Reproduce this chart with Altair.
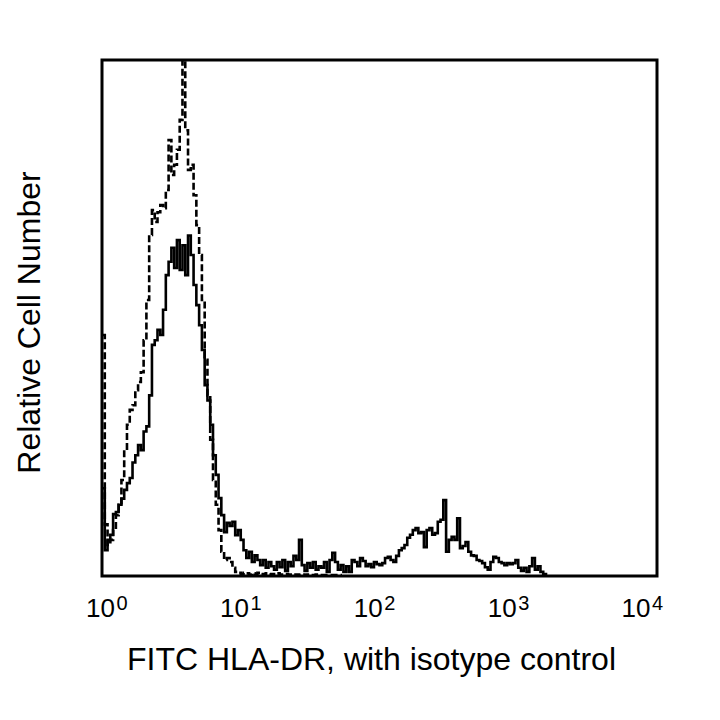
import altair as alt
import pandas as pd

# Histogram heights (percent of plot height) per channel, 50 channels per decade
sample_counts = [
    17, 5, 7, 8, 12, 12.4, 13.8, 15, 16.7, 18,
    19, 22, 23.4, 25.4, 24.4, 28, 29, 35, 44.8, 45.7,
    47.7, 46.7, 51.6, 58.3, 60.9, 63.6, 59.7, 65.1, 59.3, 64.1,
    58.3, 66, 62.2, 56.4, 52.5, 48.6, 43.8, 37, 34, 29.3,
    23.4, 19.6, 15.1, 11.8, 8.5, 10.3, 9.7, 10.5, 7.9, 8.9,
    7, 5, 3.5, 4.7, 2.7, 4, 3.1, 2.1, 3.1, 1.6,
    2.7, 1.9, 1.2, 2.7, 1.7, 3.1, 1, 2.7, 1.9, 3.9,
    3.1, 7, 2.1, 1, 2.5, 1.6, 2.7, 1.2, 1.9, 1.6,
    2.7, 0.8, 3.1, 4.5, 2.7, 1.2, 2.1, 0.8, 1.9, 0.8,
    3.1, 2.7, 1.9, 3.5, 2.9, 1.9, 2.3, 1.7, 2.7, 2.3,
    2.1, 2.5, 3.5, 3.7, 3.1, 2.7, 3.9, 5, 5.4, 6,
    7.4, 8, 8.9, 9.3, 8.3, 8.5, 5.6, 8.9, 9.3, 8,
    8.3, 10.5, 10.9, 14.7, 4.7, 7, 7.6, 7, 11.2, 5.4,
    5.8, 6.6, 4.7, 4, 3.9, 3.1, 2.9, 2.5, 1.7, 1.2,
    2.7, 3.7, 3.5, 2.7, 2.5, 2.1, 2.5, 2.3, 2.5, 3.1,
    1.6, 1, 1.6, 0.8, 1.9, 3.5, 1.2, 1.9, 0.8, 0.4,
    0,
]

isotype_counts = [
    46.7, 10, 6, 7, 8.9, 11.8, 13.8, 18.6, 24.4, 29.3,
    32.2, 33.1, 36, 37.6, 39.5, 45.7, 53.5, 66.1, 70.9, 68.6,
    70.5, 71.9, 71.3, 74.8, 84.5, 77.7, 79.7, 82.6, 88.4, 101,
    86.4, 78.7, 79.7, 73.8, 68, 62.2, 53.5, 41.9, 35, 26.4,
    18.6, 13.8, 8.9, 4.7, 3.1, 3.5, 2.7, 1.6, 0.8, 0.6,
    0.4, 0.6, 0.5, 0.3, 0.5, 0.4, 0.6, 0.3, 0.4, 0.5,
    0.3, 0.4, 0.3, 0.5, 0.3, 0.3, 0.4, 0.3, 0.2, 0.3,
    0.3, 0.2, 0.3, 0.2, 0.3, 0.2, 0.2, 0.3, 0.2, 0.2,
    0.2, 0.2, 0.2, 0.2, 0.2, 0.2, 0,
]

CHANNELS_PER_DECADE = 50
decades = [0, 1, 2, 3, 4]
exponents = ["0", "1", "2", "3", "4"]
x_title = "FITC HLA-DR, with isotype control"
y_title = "Relative Cell Number"

rows = []
for i, v in enumerate(sample_counts):
    rows.append({"logx": i / CHANNELS_PER_DECADE, "count": v, "series": "sample"})
for i, v in enumerate(isotype_counts):
    rows.append({"logx": i / CHANNELS_PER_DECADE, "count": v, "series": "isotype"})
df = pd.DataFrame(rows)

labels_df = pd.DataFrame({"decade": decades, "base": ["10"] * 5, "exp": exponents})

W, H = 555, 516
FONT = "Liberation Sans"

x_enc = alt.X(
    "logx:Q",
    scale=alt.Scale(domain=[0, 4], nice=False, zero=False),
    axis=alt.Axis(title=x_title, labels=False, ticks=False, domain=False, grid=False,
                  titleFont=FONT, titleFontSize=32, titleFontWeight="normal",
                  titleColor="black", titlePadding=68, titleX=269),
)
y_enc = alt.Y(
    "count:Q",
    scale=alt.Scale(domain=[0, 100], nice=False),
    axis=alt.Axis(title=y_title, labels=False, ticks=False, domain=False, grid=False,
                  titleFont=FONT, titleFontSize=32, titleFontWeight="normal",
                  titleColor="black", titlePadding=56, titleY=262),
)

sample_line = alt.Chart(df).transform_filter(alt.datum.series == "sample").mark_line(
    interpolate="step-after", color="black", strokeWidth=2.6, clip=True
).encode(x=x_enc, y=y_enc)

isotype_line = alt.Chart(df).transform_filter(alt.datum.series == "isotype").mark_line(
    interpolate="step-after", color="black", strokeWidth=2.6, strokeDash=[7, 3], clip=True
).encode(x=x_enc, y=y_enc)

lab_x = alt.X("decade:Q", scale=alt.Scale(domain=[-0.0374, 4.108], nice=False, zero=False), axis=None)

base_text = alt.Chart(labels_df).mark_text(
    font=FONT, fontSize=26, align="right", baseline="alphabetic", dx=8, color="black"
).encode(x=lab_x, y=alt.value(H + 41), text="base:N")

exp_text = alt.Chart(labels_df).mark_text(
    font=FONT, fontSize=20, align="left", baseline="alphabetic", dx=9.5, color="black"
).encode(x=lab_x, y=alt.value(H + 34), text="exp:N")

chart = alt.layer(sample_line, isotype_line, base_text, exp_text).resolve_scale(
    x="independent"
).properties(
    width=W, height=H, autosize="none",
    padding={"left": 94, "top": 52, "right": 55, "bottom": 136},
).configure_view(stroke="black", strokeWidth=3)

chart.save("out.html", embed_options={"renderer": "svg", "actions": False})
